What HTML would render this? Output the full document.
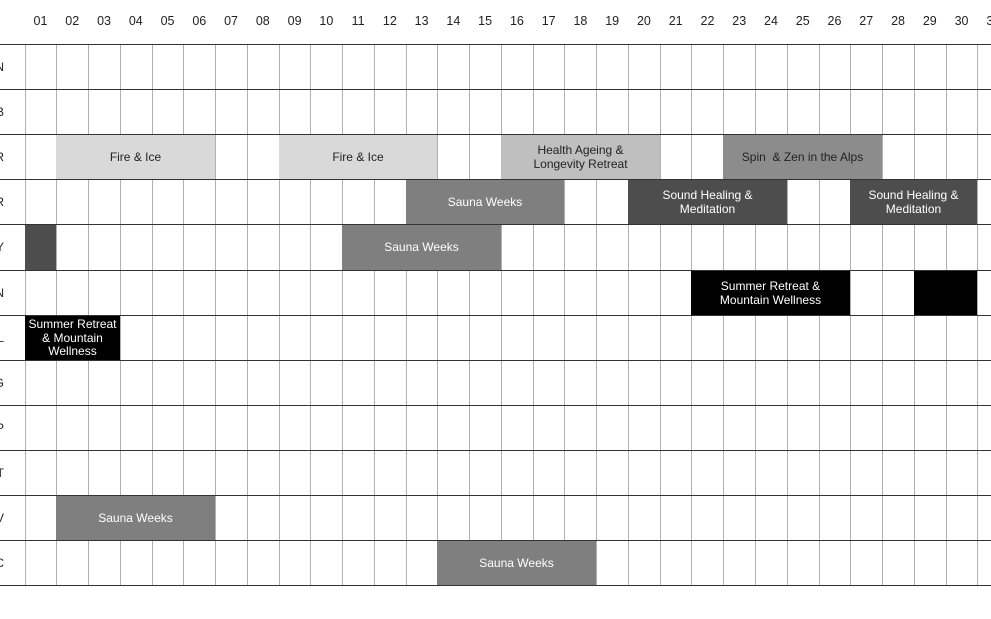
<!DOCTYPE html>
<html><head><meta charset="utf-8"><style>
body{margin:0;width:991px;height:619px;background:#fff;position:relative;overflow:hidden;font-family:"Liberation Sans","DejaVu Sans",sans-serif;}
.v{position:absolute;top:44px;height:542px;width:1px;background:#b0b0b0}
.h{position:absolute;left:0;width:991px;height:1px;background:#333}
.c{position:absolute;top:14px;width:32px;text-align:center;font-size:12.5px;color:#222}
.m{position:absolute;right:987px;font-size:12px;color:#222;line-height:47px;text-align:right}
.b{position:absolute;display:flex;align-items:center;justify-content:center;text-align:center;font-size:12px;line-height:13.5px;padding-top:2px;box-sizing:border-box}
</style></head><body>
<div id="g"></div>
<script>
var W=31.76,X0=24.5,Y0=44,H=45.1,s='';
function R(v){return Math.round(v);}
for(var i=0;i<=31;i++){s+='<div class="v" style="left:'+R(X0+i*W)+'px"></div>';}
for(var i=1;i<=31;i++){var t=(i<10?'0':'')+i;s+='<div class="c" style="left:'+(X0+(i-1)*W)+'px">'+t+'</div>';}
var ms=['JAN','FEB','MAR','APR','MAY','JUN','JUL','AUG','SEP','OCT','NOV','DEC'];
for(var r=0;r<12;r++){s+='<div class="m" style="top:'+R(Y0+r*H)+'px">'+ms[r]+'</div>';}
var bars=[[2,2,6,'#d9d9d9','#222','Fire &amp; Ice'],[2,9,13,'#d9d9d9','#222','Fire &amp; Ice'],[2,16,20,'#bfbfbf','#222','Health Ageing &amp;<br>Longevity Retreat'],[2,23,27,'#8c8c8c','#222','Spin &nbsp;&amp; Zen in the Alps'],
[3,13,17,'#7f7f7f','#fff','Sauna Weeks'],[3,20,24,'#4d4d4d','#fff','Sound Healing &amp;<br>Meditation'],[3,27,30,'#4d4d4d','#fff','Sound Healing &amp;<br>Meditation'],
[4,1,1,'#4d4d4d','#fff',''],[4,11,15,'#7f7f7f','#fff','Sauna Weeks'],
[5,22,26,'#000','#fff','Summer Retreat &amp;<br>Mountain Wellness'],[5,29,30,'#000','#fff',''],
[6,1,3,'#000','#fff','Summer Retreat<br>&amp; Mountain<br>Wellness'],
[10,2,6,'#7f7f7f','#fff','Sauna Weeks'],[11,14,18,'#7f7f7f','#fff','Sauna Weeks']];
bars.forEach(function(b){var l=R(X0+(b[1]-1)*W),r2=R(X0+b[2]*W),t=R(Y0+b[0]*H),bt=R(Y0+(b[0]+1)*H);s+='<div class="b" style="left:'+l+'px;width:'+(r2-l)+'px;top:'+t+'px;height:'+(bt-t)+'px;background:'+b[3]+';color:'+b[4]+'">'+b[5]+'</div>';});
for(var r=0;r<=12;r++){s+='<div class="h" style="top:'+R(Y0+r*H)+'px"></div>';}
document.getElementById('g').innerHTML=s;
</script>
</body></html>
